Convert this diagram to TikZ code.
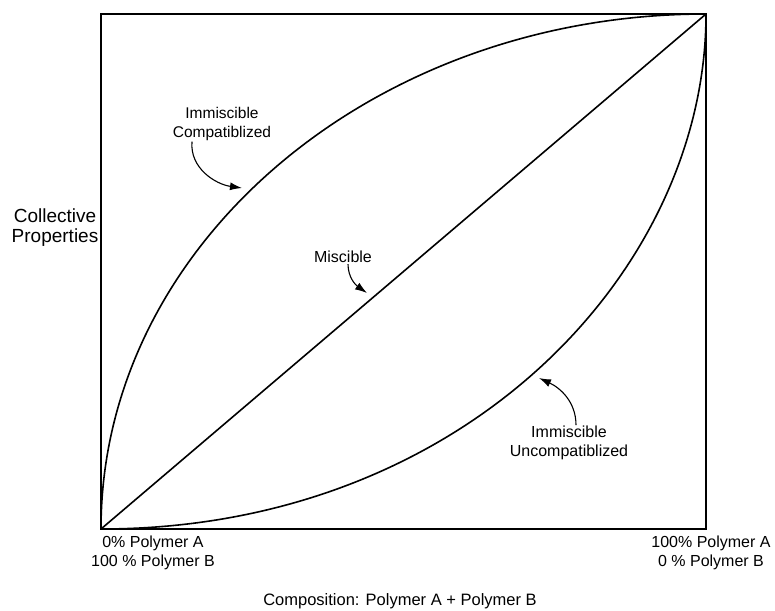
\documentclass[tikz,border=0pt]{standalone}
\usepackage{fontspec}
\setmainfont{Liberation Sans}
\usetikzlibrary{arrows.meta,positioning,calc}
\tikzstyle{curve} = [line width=1.6pt]
\tikzstyle{lbl} = [inner sep=1pt, align=center, font=\fontsize{16}{18.5}\selectfont]
\tikzstyle{axislbl} = [inner sep=1pt, align=center, font=\fontsize{19}{20}\selectfont]
\tikzstyle{pointer} = [line width=1.1pt, -{Latex[length=12pt,width=8pt]}]

\begin{document}
\begin{tikzpicture}[x=1pt,y=-1pt]
\useasboundingbox (0,0) rectangle (775,610);
\coordinate (orig) at (101,529);
\coordinate (top) at (706,14);

% frame and the three curves
\draw [curve] (101,14) rectangle (706,529);
\draw [curve] (orig) -- (top);
\draw [curve] (orig) .. controls (101,245) and (372,14) .. (top);
\draw [curve] (orig) .. controls (464,529) and (706,271) .. (top);

\node (cmp) [lbl, font=\fontsize{15.5}{18.5}\selectfont] at (222,124) {Immiscible\\Compatiblized};
\node (mis) [lbl] at (343,257) {Miscible};
\node (unc) [lbl] at (569,443) {Immiscible\\Uncompatiblized};
\node (prop) [axislbl] at (55,228) {Collective\\Properties};
\node (left) [lbl] at (153,553) {0\% Polymer A\\100 \% Polymer B};
\node (right) [lbl] at (711,553) {100\% Polymer A\\0 \% Polymer B};
\node (comp) [lbl, font=\fontsize{16.5}{19}\selectfont] at (400,601) {Composition: Polymer A + Polymer B};

\coordinate (cmptip) at (242,188);
\coordinate (mistip) at (367,293);
\coordinate (unctip) at (539,378);

\draw [pointer] ([xshift=-30pt]cmp.south) to[out=-95,in=172] (cmptip);
\draw [pointer] ([xshift=5pt]mis.south) to[out=-90,in=145] (mistip);
\draw [pointer] ([xshift=7pt]unc.north) to[out=90,in=-25] (unctip);
\end{tikzpicture}
\end{document}
